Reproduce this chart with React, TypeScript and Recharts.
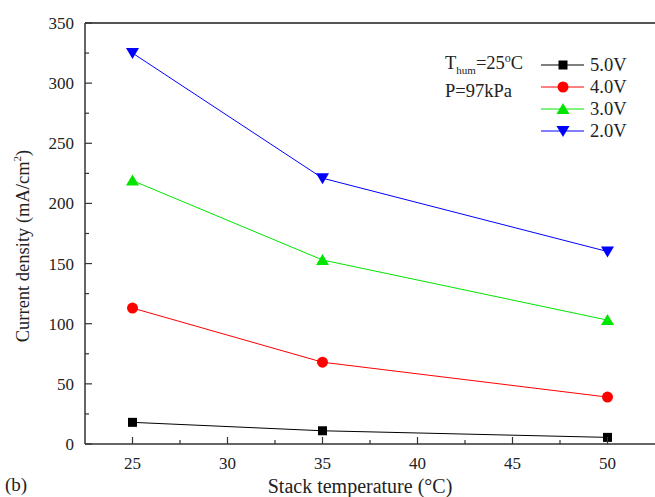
import * as React from "react";
import {
  LineChart,
  Line,
  XAxis,
  YAxis,
  ReferenceLine,
  Label,
} from "recharts";

// Stack temperature (°C) and current density (mA/cm²) per cell voltage.
const temps = [25, 35, 50];
const v50 = [18, 11, 5.5];
const v40 = [113, 68, 39];
const v30 = [219, 153, 103];
const v20 = [325, 221, 160];

const xTicks = [25, 27.5, 30, 32.5, 35, 37.5, 40, 42.5, 45, 47.5, 50];
const yTicks = [0, 25, 50, 75, 100, 125, 150, 175, 200, 225, 250, 275, 300, 325, 350];

const seriesNames = ["5.0V", "4.0V", "3.0V", "2.0V"];
const seriesKeys = ["v50", "v40", "v30", "v20"];
const seriesColors = ["#000000", "#ff0000", "#00e600", "#0000ff"];
const seriesMarkers = ["square", "circle", "up", "down"];

const data = temps.map((t, i) => ({
  t,
  v50: v50[i],
  v40: v40[i],
  v30: v30[i],
  v20: v20[i],
}));

const FONT = "Liberation Serif, DejaVu Serif, serif";
const AXIS = "#333";

function Marker({ kind, cx, cy, color }: { kind: string; cx: number; cy: number; color: string }) {
  if (kind === "square")
    return <rect x={cx - 4.5} y={cy - 4.5} width={9} height={9} fill={color} />;
  if (kind === "circle") return <circle cx={cx} cy={cy} r={5.5} fill={color} />;
  if (kind === "up")
    return (
      <polygon
        points={`${cx},${cy - 6} ${cx - 6.5},${cy + 5} ${cx + 6.5},${cy + 5}`}
        fill={color}
      />
    );
  return (
    <polygon
      points={`${cx},${cy + 6} ${cx - 6.5},${cy - 5} ${cx + 6.5},${cy - 5}`}
      fill={color}
    />
  );
}

function XTick(props: any) {
  const { x, y, payload } = props;
  const major = payload.value % 5 === 0;
  return (
    <g>
      <line x1={x} x2={x} y1={y} y2={y - (major ? 7 : 4)} stroke={AXIS} strokeWidth={1.2} />
      {major && (
        <text x={x} y={y + 25} textAnchor="middle" fontFamily={FONT} fontSize={17} fill="#222">
          {payload.value}
        </text>
      )}
    </g>
  );
}

function YTick(props: any) {
  const { x, y, payload } = props;
  const major = payload.value % 50 === 0;
  return (
    <g>
      <line x1={x} x2={x + (major ? 7 : 4)} y1={y} y2={y} stroke={AXIS} strokeWidth={1.2} />
      {major && (
        <text x={x - 11} y={y + 6} textAnchor="end" fontFamily={FONT} fontSize={17} fill="#222">
          {payload.value}
        </text>
      )}
    </g>
  );
}

function YTitle() {
  return (
    <text
      x={0}
      y={0}
      transform="translate(29,246) rotate(-90)"
      textAnchor="middle"
      fontFamily={FONT}
      fontSize={18.5}
      fill="#222"
    >
      <tspan>Current density (mA/cm</tspan>
      <tspan dy={-8} fontSize={11}>2</tspan>
      <tspan dy={8}>)</tspan>
    </text>
  );
}

function XTitle() {
  return (
    <text x={360} y={493} textAnchor="middle" fontFamily={FONT} fontSize={20} fill="#222">
      Stack temperature (°C)
    </text>
  );
}

export default function App() {
  return (
    <div style={{ position: "absolute", left: 0, top: 0, width: 655, height: 497, background: "#fff" }}>
      <LineChart
        width={655}
        height={497}
        data={data}
        margin={{ top: 23, right: 0, bottom: 0, left: 0 }}
      >
        <ReferenceLine y={350} stroke="#555" strokeWidth={2} />
        <XAxis
          dataKey="t"
          type="number"
          domain={[22.5, 52.5]}
          ticks={xTicks}
          interval={0}
          height={53}
          tickSize={0}
          tickMargin={0}
          tickLine={false}
          axisLine={{ stroke: AXIS, strokeWidth: 1.5 }}
          tick={<XTick />}
        >
          <Label content={<XTitle />} />
        </XAxis>
        <YAxis
          type="number"
          domain={[0, 350]}
          ticks={yTicks}
          interval={0}
          width={85}
          tickSize={0}
          tickMargin={0}
          tickLine={false}
          axisLine={{ stroke: AXIS, strokeWidth: 1.5 }}
          tick={<YTick />}
        >
          <Label content={<YTitle />} />
        </YAxis>
        {seriesKeys.map((k, i) => (
          <Line
            key={k}
            dataKey={k}
            name={seriesNames[i]}
            type="linear"
            stroke={seriesColors[i]}
            strokeWidth={1}
            isAnimationActive={false}
            dot={(p: any) => (
              <Marker key={`${k}-${p.index}`} kind={seriesMarkers[i]} cx={p.cx} cy={p.cy} color={seriesColors[i]} />
            )}
            activeDot={false}
          />
        ))}
      </LineChart>

      {/* condition note */}
      <div
        style={{
          position: "absolute",
          left: 445,
          top: 52,
          fontFamily: FONT,
          fontSize: 18.5,
          lineHeight: "22px",
          color: "#222",
          whiteSpace: "nowrap",
        }}
      >
        T<sub style={{ fontSize: 11, verticalAlign: -5, lineHeight: 0 }}>hum</sub>=25
        <sup style={{ fontSize: 12, verticalAlign: 7, lineHeight: 0 }}>o</sup>C
      </div>
      <div
        style={{
          position: "absolute",
          left: 445,
          top: 80,
          fontFamily: FONT,
          fontSize: 18.5,
          lineHeight: "22px",
          color: "#222",
        }}
      >
        P=97kPa
      </div>

      {/* legend */}
      <div style={{ position: "absolute", left: 541, top: 54 }}>
        {seriesNames.map((n, i) => (
          <div key={n} style={{ display: "flex", alignItems: "center", height: 22 }}>
            <svg width={44} height={22}>
              <line x1={0} x2={43} y1={11} y2={11} stroke={seriesColors[i]} strokeWidth={1} />
              <Marker kind={seriesMarkers[i]} cx={22} cy={11} color={seriesColors[i]} />
            </svg>
            <span style={{ fontFamily: FONT, fontSize: 18.5, color: "#222", marginLeft: 5 }}>{n}</span>
          </div>
        ))}
      </div>

      <div style={{ position: "absolute", left: 5, top: 474, fontFamily: FONT, fontSize: 19, color: "#222" }}>
        (b)
      </div>
    </div>
  );
}
